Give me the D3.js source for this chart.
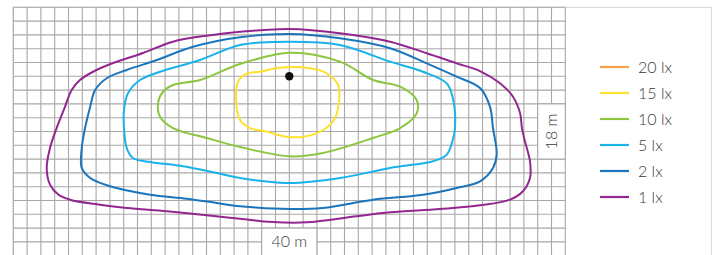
<!DOCTYPE html>
<html>
<head>
<meta charset="utf-8">
<script src="https://cdn.jsdelivr.net/npm/d3@7"></script>
<style>
  body { margin: 0; background: #fff; }
  svg { display: block; font-family: "Lato", "Open Sans", sans-serif; font-weight: 300; }
</style>
</head>
<body>
<svg></svg>
<script>
// chart size
let width = 720;
let height = 255;

// contour levels, legend labels and colours
let levels = ["20 lx", "15 lx", "10 lx", "5 lx", "2 lx", "1 lx"];
let levelColors = ["#f7a046", "#fde12d", "#8cc63f", "#1ab2ea", "#1b75bc", "#92278f"];

// grid extent in metres, luminaire at 0,0 (y goes down, away from the wall)
let gridX = [-20, 20];
let gridY = [-5, 13];
let lumPos = [0, 0];

// isolux lines, [x m, y m] points around each closed curve
let lux1 = [[0.05,-3.43],[3.67,-3.12],[7.3,-2.51],[9.96,-1.67],[12.13,-0.94],[13.82,-0.38],[15.27,0.51],[16.21,1.48],[16.72,2.66],[16.86,3.75],[17.07,4.69],[17.44,6.14],[17.44,7.37],[16.93,8.33],[15.99,8.94],[13.82,9.35],[10.92,9.62],[7.3,9.86],[4.88,10.14],[1.26,10.58],[-1.18,10.56],[-3.57,10.32],[-5.99,10.07],[-8.88,9.78],[-11.78,9.54],[-13.72,9.3],[-15.89,8.94],[-16.74,8.57],[-17.34,7.85],[-17.58,6.64],[-17.34,5.2],[-16.86,3.75],[-16.25,2.2],[-15.77,0.99],[-15.17,0.27],[-14.22,-0.33],[-12.77,-0.96],[-10.6,-1.69],[-8.43,-2.51],[-6.0,-2.94],[-3.57,-3.23]];
let lux2 = [[0.05,-3.07],[3.67,-2.75],[7.3,-2.03],[9.96,-0.94],[12.13,0.03],[13.82,0.85],[14.54,2.2],[14.76,3.75],[15.03,5.68],[14.76,6.64],[13.82,7.61],[12.13,8.09],[9.69,8.58],[6.07,8.94],[2.44,9.54],[0.05,9.62],[-3.57,9.42],[-5.26,9.18],[-7.43,8.87],[-10.09,8.58],[-12.99,7.97],[-14.43,7.37],[-15.04,6.64],[-15.04,5.2],[-14.8,3.75],[-14.43,2.2],[-14.07,0.99],[-13.23,0.14],[-11.78,-0.46],[-9.61,-1.18],[-6.98,-2.14],[-3.57,-2.83]];
let lux5 = [[0.05,-2.51],[3.67,-2.27],[7.3,-1.06],[9.69,-0.33],[11.41,0.51],[11.88,1.72],[12.01,3.75],[11.88,4.47],[11.41,5.68],[10.41,6.16],[7.3,6.64],[3.67,7.37],[0.05,7.73],[-3.57,7.37],[-5.26,7.01],[-7.7,6.52],[-10.09,6.21],[-11.33,5.92],[-11.78,5.2],[-11.98,3.75],[-11.98,2.44],[-11.69,1.23],[-10.82,0.27],[-9.37,-0.33],[-6.47,-1.18],[-3.57,-2.27]];
let lux10 = [[0.05,-1.71],[3.67,-1.06],[6.07,0.27],[8.03,0.75],[9.23,1.72],[9.23,2.68],[8.03,3.75],[6.07,4.47],[2.44,5.56],[0.05,5.8],[-3.57,5.12],[-5.99,4.47],[-8.43,3.75],[-9.37,2.93],[-9.51,1.96],[-9.15,1.12],[-8.43,0.63],[-6.47,0.27],[-3.57,-0.89]];
let lux15 = [[-2.12,-0.33],[-0.67,-0.62],[1.49,-0.58],[2.7,-0.22],[3.54,0.63],[3.62,1.59],[3.31,3.04],[2.46,3.89],[1.01,4.38],[-0.19,4.38],[-1.64,4.01],[-2.85,3.75],[-3.57,3.17],[-3.86,1.72],[-3.72,0.41],[-3.14,-0.17]];
let lux20 = [];

// dimension labels
let widthLabel = "40 m";
let depthLabel = "18 m";

let svg = d3.select("svg").attr("width", width).attr("height", height);

// scales: 1 m = one grid cell
let xScale = d3.scaleLinear().domain(gridX).range([13.3, 565.3]);
let yScale = d3.scaleLinear().domain(gridY).range([7.3, 255.7]);

// outer frame round chart and legend
svg.append("path")
   .attr("d", "M" + xScale(gridX[0]) + "," + (height + 2) + "V" + yScale(gridY[0]) + "H711.5V" + (height + 2))
   .attr("fill", "none")
   .attr("stroke", "#dcdcdc")
   .attr("stroke-width", 1.2);

// grid lines
let grid = svg.append("g").attr("stroke", "#a8a8a8").attr("stroke-width", 1.1);
grid.selectAll(".vline")
    .data(d3.range(gridX[0], gridX[1] + 1))
    .enter()
    .append("line")
    .attr("x1", d => xScale(d)).attr("x2", d => xScale(d))
    .attr("y1", yScale(gridY[0])).attr("y2", yScale(gridY[1]));
grid.selectAll(".hline")
    .data(d3.range(gridY[0], gridY[1] + 1))
    .enter()
    .append("line")
    .attr("x1", xScale(gridX[0])).attr("x2", xScale(gridX[1]))
    .attr("y1", d => yScale(d)).attr("y2", d => yScale(d));

// white label boxes on top of the grid (in grid cells)
let boxes = [
  {x0: -2, x1: 2, y0: 11, y1: 13},
  {x0: 18, x1: 20, y0: 2, y1: 6}
];
svg.selectAll(".box")
   .data(boxes)
   .enter()
   .append("rect")
   .attr("x", d => xScale(d.x0))
   .attr("y", d => yScale(d.y0))
   .attr("width", d => xScale(d.x1) - xScale(d.x0))
   .attr("height", d => yScale(d.y1) - yScale(d.y0))
   .attr("fill", "#fff")
   .attr("stroke", "#a8a8a8")
   .attr("stroke-width", 1.1);

svg.append("text")
   .attr("x", xScale(0))
   .attr("y", 247)
   .attr("text-anchor", "middle")
   .attr("font-size", 16)
   .attr("fill", "#3a3a3a")
   .text(widthLabel);

svg.append("text")
   .attr("transform", "translate(" + (xScale(19) + 5.5) + "," + yScale(4) + ") rotate(-90)")
   .attr("text-anchor", "middle")
   .attr("font-size", 16)
   .attr("fill", "#3a3a3a")
   .text(depthLabel);

// isolux curves
let line = d3.line()
             .x(d => xScale(d[0]))
             .y(d => yScale(d[1]))
             .curve(d3.curveCatmullRomClosed.alpha(0.5));

let curves = [lux20, lux15, lux10, lux5, lux2, lux1];
svg.selectAll(".iso")
   .data(curves.map((pts, i) => ({pts: pts, color: levelColors[i]})).filter(d => d.pts.length))
   .enter()
   .append("path")
   .attr("class", "iso")
   .attr("d", d => line(d.pts))
   .attr("fill", "none")
   .attr("stroke", d => d.color)
   .attr("stroke-width", 2);

// luminaire
svg.append("circle")
   .attr("cx", xScale(lumPos[0]))
   .attr("cy", yScale(lumPos[1]))
   .attr("r", 4.2)
   .attr("fill", "#111");

// legend
let legend = svg.append("g").attr("transform", "translate(600,67)");
let rows = legend.selectAll("g")
                 .data(levels)
                 .enter()
                 .append("g")
                 .attr("transform", (d, i) => "translate(0," + (i * 26) + ")");
rows.append("line")
    .attr("x1", 0).attr("x2", 29)
    .attr("stroke", (d, i) => levelColors[i])
    .attr("stroke-width", 2.2);
rows.append("text")
    .attr("x", 38)
    .attr("y", 5.5)
    .attr("font-size", 16)
    .attr("fill", "#3a3a3a")
    .text(d => d);
</script>
</body>
</html>
